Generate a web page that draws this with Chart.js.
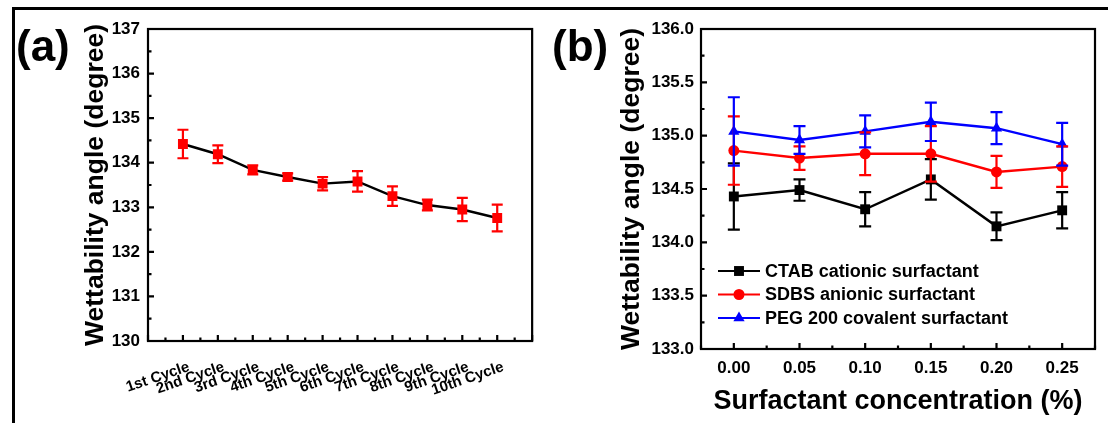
<!DOCTYPE html>
<html>
<head>
<meta charset="utf-8">
<script src="https://cdn.jsdelivr.net/npm/chart.js@4.4.1/dist/chart.umd.min.js"></script>
<style>
  html, body { margin: 0; padding: 0; background: #fff; }
  #page { position: relative; width: 1108px; height: 423px; overflow: hidden; background: #fff; }
  canvas { position: absolute; top: 0; }
  #chartA { left: 0; }
  #chartB { left: 560px; }
  .panel { position: absolute; font: bold 44px "Liberation Sans", Arial, sans-serif; line-height: 44px; color: #000; }
  .rule { position: absolute; background: #000; }
</style>
</head>
<body>
<div id="page">
  <canvas id="chartA" width="555" height="423"></canvas>
  <canvas id="chartB" width="548" height="423"></canvas>
  <div class="panel" style="left:16px; top:24px;">(a)</div>
  <div class="panel" style="left:552px; top:24px;">(b)</div>
  <div class="rule" style="left:12px; top:7px; width:1096px; height:3px;"></div>
  <div class="rule" style="left:12px; top:7px; width:3px; height:416px;"></div>
</div>
<script>
// --- panel (a): repeated cycles ---
const cycleLabels = ['1st Cycle', '2nd Cycle', '3rd Cycle', '4th Cycle', '5th Cycle',
                     '6th Cycle', '7th Cycle', '8th Cycle', '9th Cycle', '10th Cycle'];
const cycleAngle = [134.42, 134.19, 133.84, 133.68, 133.53, 133.58, 133.25, 133.05, 132.95, 132.76];
const cycleErr   = [0.32, 0.20, 0.10, 0.08, 0.15, 0.23, 0.22, 0.12, 0.26, 0.30];

// --- panel (b): surfactant concentration ---
const concentrations = [0.00, 0.05, 0.10, 0.15, 0.20, 0.25];
const ctabAngle = [134.43, 134.49, 134.31, 134.59, 134.15, 134.30];
const ctabErr   = [0.31, 0.10, 0.16, 0.19, 0.13, 0.17];
const sdbsAngle = [134.86, 134.79, 134.83, 134.83, 134.66, 134.71];
const sdbsErr   = [0.32, 0.11, 0.20, 0.26, 0.15, 0.19];
const pegAngle  = [135.04, 134.96, 135.04, 135.13, 135.07, 134.92];
const pegErr    = [0.32, 0.13, 0.15, 0.18, 0.15, 0.20];

const FONT = '"Liberation Sans", Arial, sans-serif';

// error bars drawn from each dataset's `errors` array
const errorBars = {
    id: 'errorBars',
    afterDatasetsDraw(chart) {
        const ctx = chart.ctx;
        const y = chart.scales.y;
        chart.data.datasets.forEach((ds, i) => {
            const meta = chart.getDatasetMeta(i);
            ctx.save();
            ctx.strokeStyle = ds.errorColor || ds.borderColor;
            ctx.lineWidth = 2.2;
            meta.data.forEach((pt, j) => {
                const v = ds.data[j].y, e = ds.errors[j];
                const top = y.getPixelForValue(v + e), bot = y.getPixelForValue(v - e);
                const w = ds.capHalf || 5.5;
                ctx.beginPath();
                ctx.moveTo(pt.x, top); ctx.lineTo(pt.x, bot);
                ctx.moveTo(pt.x - w, top); ctx.lineTo(pt.x + w, top);
                ctx.moveTo(pt.x - w, bot); ctx.lineTo(pt.x + w, bot);
                ctx.stroke();
            });
            ctx.restore();
        });
    }
};

// boxed frame with inward ticks
const frameTicks = {
    id: 'frameTicks',
    afterDraw(chart, args, opts) {
        const ctx = chart.ctx;
        const a = chart.chartArea;
        ctx.save();
        ctx.strokeStyle = '#000';
        ctx.lineWidth = 2.2;
        ctx.strokeRect(a.left, a.top, a.right - a.left, a.bottom - a.top);
        ['x', 'y'].forEach(id => {
            const s = chart.scales[id];
            const o = opts[id];
            const n = Math.round((s.max - s.min) / o.step);
            ctx.beginPath();
            for (let k = 0; k <= n; k++) {
                const v = s.min + k * o.step;
                const isMajor = Math.abs(v / o.major - Math.round(v / o.major)) < 1e-6;
                const len = isMajor ? 6 : 3.5;
                const p = s.getPixelForValue(v);
                if (id === 'x') { ctx.moveTo(p, a.bottom); ctx.lineTo(p, a.bottom - len); }
                else { ctx.moveTo(a.left, p); ctx.lineTo(a.left + len, p); }
            }
            ctx.stroke();
        });
        ctx.restore();
    }
};

// legend with a line sample through the marker
const lineLegend = {
    id: 'lineLegend',
    afterDraw(chart, args, opts) {
        if (!opts.show) return;
        const ctx = chart.ctx;
        ctx.save();
        ctx.font = 'bold 18px ' + FONT;
        ctx.textBaseline = 'middle';
        chart.data.datasets.forEach((ds, i) => {
            const yy = opts.y0 + i * opts.dy;
            ctx.strokeStyle = ds.borderColor;
            ctx.lineWidth = 2.2;
            ctx.beginPath();
            ctx.moveTo(opts.x0, yy); ctx.lineTo(opts.x0 + opts.len, yy);
            ctx.stroke();
            ctx.fillStyle = ds.pointBackgroundColor;
            ctx.strokeStyle = ds.pointBorderColor;
            Chart.helpers.drawPoint(ctx, { pointStyle: ds.pointStyle, radius: ds.pointRadius, rotation: 0, borderWidth: 0 },
                                    opts.x0 + opts.len / 2, yy);
            ctx.fillStyle = '#000';
            ctx.fillText(ds.label, opts.x0 + opts.len + 5, yy + 1);
        });
        ctx.restore();
    }
};

const tickFont = size => ({ family: FONT, size: size, weight: 'bold' });
const titleFont = { family: FONT, size: 26.5, weight: 'bold', lineHeight: 1 };

new Chart(document.getElementById('chartA'), {
    type: 'line',
    data: {
        datasets: [{
            data: cycleAngle.map((v, i) => ({ x: i + 1, y: v })),
            errors: cycleErr,
            errorColor: '#ff0000',
            borderColor: '#000',
            borderWidth: 2.4,
            pointStyle: 'rect',
            pointRadius: 7,
            pointBackgroundColor: '#ff0000',
            pointBorderColor: '#ff0000',
            pointBorderWidth: 0,
            tension: 0
        }]
    },
    options: {
        responsive: false,
        animation: false,
        layout: { padding: { left: 82, right: 22, top: 29, bottom: 0 } },
        plugins: {
            legend: { display: false },
            tooltip: { enabled: false },
            frameTicks: { x: { step: 0.5, major: 1 }, y: { step: 0.5, major: 1 } },
            lineLegend: { show: false }
        },
        scales: {
            x: {
                type: 'linear', min: 0, max: 11,
                grid: { display: false, drawTicks: false },
                border: { display: false },
                ticks: {
                    stepSize: 0.5, autoSkip: false, minRotation: 19, maxRotation: 19, padding: 17,
                    labelOffset: 6,
                    color: '#000', font: tickFont(15),
                    callback: v => (Number.isInteger(v) && v >= 1 && v <= 10) ? cycleLabels[v - 1] : ''
                },
                afterFit: s => { s.height = 82; }
            },
            y: {
                min: 130, max: 137,
                grid: { display: false, drawTicks: false },
                border: { display: false },
                ticks: { stepSize: 1, padding: 8, color: '#000', font: tickFont(17) },
                title: { display: true, text: 'Wettability angle (degree)', color: '#000', font: titleFont, padding: 0 },
                afterFit: s => { s.width = 66; }
            }
        }
    },
    plugins: [errorBars, frameTicks, lineLegend]
});

const series = (label, vals, errs, color, style, r) => ({
    label: label,
    data: vals.map((v, i) => ({ x: concentrations[i], y: v })),
    errors: errs,
    capHalf: 6,
    borderColor: color,
    borderWidth: 2.4,
    pointStyle: style,
    pointRadius: r,
    pointBackgroundColor: color,
    pointBorderColor: color,
    pointBorderWidth: 0,
    tension: 0
});

new Chart(document.getElementById('chartB'), {
    type: 'line',
    data: {
        datasets: [
            series('CTAB cationic surfactant', ctabAngle, ctabErr, '#000000', 'rect', 7),
            series('SDBS anionic surfactant', sdbsAngle, sdbsErr, '#ff0000', 'circle', 5.5),
            series('PEG 200 covalent surfactant', pegAngle, pegErr, '#0000ff', 'triangle', 6.5)
        ]
    },
    options: {
        responsive: false,
        animation: false,
        layout: { padding: { left: 58, right: 13, top: 29, bottom: 0 } },
        plugins: {
            legend: { display: false },
            tooltip: { enabled: false },
            frameTicks: { x: { step: 0.025, major: 0.05 }, y: { step: 0.25, major: 0.5 } },
            lineLegend: { show: true, x0: 158, len: 42, y0: 271, dy: 23.5 }
        },
        scales: {
            x: {
                type: 'linear', min: -0.025, max: 0.275,
                grid: { display: false, drawTicks: false },
                border: { display: false },
                ticks: {
                    stepSize: 0.025, autoSkip: false, maxRotation: 0, padding: 9,
                    color: '#000', font: tickFont(17),
                    callback: v => {
                        const k = Math.round(v * 1000);
                        return (k >= 0 && k % 50 === 0) ? (k / 1000).toFixed(2) : '';
                    }
                },
                title: { display: true, text: 'Surfactant concentration (%)', color: '#000',
                         font: { family: FONT, size: 27, weight: 'bold', lineHeight: 1 },
                         padding: { top: 0, bottom: 8 } },
                afterFit: s => { s.height = 74; }
            },
            y: {
                min: 133, max: 136,
                grid: { display: false, drawTicks: false },
                border: { display: false },
                ticks: { stepSize: 0.5, padding: 7, color: '#000', font: tickFont(17), callback: v => v.toFixed(1) },
                title: { display: true, text: 'Wettability angle (degree)', color: '#000', font: titleFont, padding: 0 },
                afterFit: s => { s.width = 83; }
            }
        }
    },
    plugins: [errorBars, frameTicks, lineLegend]
});
</script>
</body>
</html>
